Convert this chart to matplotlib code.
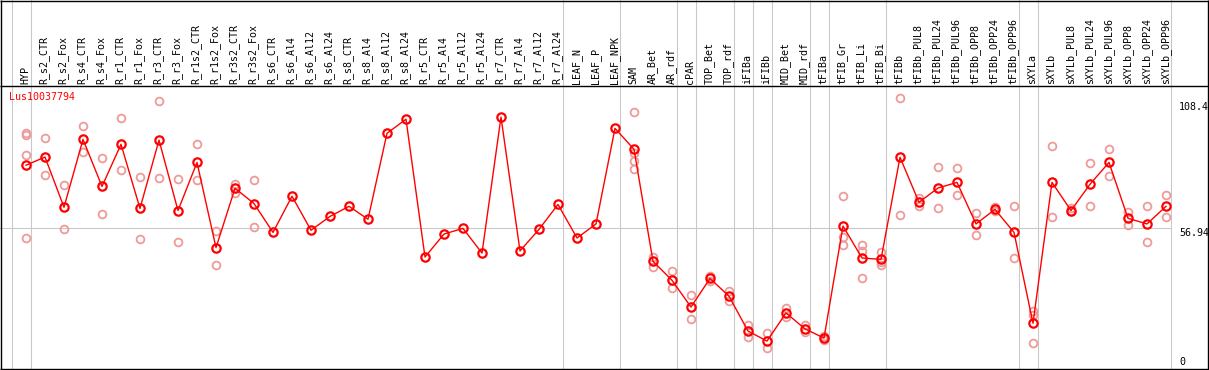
import matplotlib
matplotlib.use('Agg')
import matplotlib.pyplot as plt

gene = "Lus10037794"
categories = ["HYP", "R_s2_CTR", "R_s2_Fox", "R_s4_CTR", "R_s4_Fox", "R_r1_CTR", "R_r1_Fox",
              "R_r3_CTR", "R_r3_Fox", "R_r1s2_CTR", "R_r1s2_Fox", "R_r3s2_CTR", "R_r3s2_Fox",
              "R_s6_CTR", "R_s6_Al4", "R_s6_Al12", "R_s6_Al24", "R_s8_CTR", "R_s8_Al4",
              "R_s8_Al12", "R_s8_Al24", "R_r5_CTR", "R_r5_Al4", "R_r5_Al12", "R_r5_Al24",
              "R_r7_CTR", "R_r7_Al4", "R_r7_Al12", "R_r7_Al24", "LEAF_N", "LEAF_P", "LEAF_NPK",
              "SAM", "AR_Bet", "AR_rdf", "cPAR", "TOP_Bet", "TOP_rdf", "iFIBa", "iFIBb",
              "MID_Bet", "MID_rdf", "tFIBa", "tFIB_Gr", "tFIB_Li", "tFIB_Bi", "tFIBb",
              "tFIBb_PUL8", "tFIBb_PUL24", "tFIBb_PUL96", "tFIBb_OPP8", "tFIBb_OPP24",
              "tFIBb_OPP96", "sXYLa", "sXYLb", "sXYLb_PUL8", "sXYLb_PUL24", "sXYLb_PUL96",
              "sXYLb_OPP8", "sXYLb_OPP24", "sXYLb_OPP96"]

means = [83.8, 87.3, 65.9, 94.8, 74.8, 92.7, 65.4, 94.5, 64.5, 85.0,
         48.7, 74.0, 67.5, 55.2, 70.6, 56.1, 62.0, 66.3, 60.8, 97.4,
         103.4, 44.7, 54.5, 56.9, 46.4, 104.3, 47.3, 56.5, 67.1, 52.8,
         58.8, 99.5, 90.6, 42.9, 34.8, 23.4, 35.6, 28.0, 13.2, 8.9,
         20.9, 14.1, 10.2, 57.9, 44.3, 43.7, 87.2, 68.0, 74.1, 76.5,
         58.8, 65.0, 55.2, 16.5, 76.5, 64.5, 75.7, 85.0, 61.2, 58.8, 66.3]

replicates = [[97.6, 96.8, 88.0, 52.7], [95.3, 79.5], [75.2, 56.5], [100.4, 89.3],
              [86.9, 62.9], [103.8, 81.6], [78.8, 52.2], [111.0, 78.2], [77.8, 51.0],
              [92.7, 77.4], [55.9, 41.2], [75.8, 72.1], [77.4, 57.4],
              [], [], [], [], [], [], [], [], [], [], [], [], [], [], [], [], [], [], [],
              [106.3, 89.0, 85.6, 82.1], [44.7, 40.6], [38.6, 31.4], [28.4, 18.3],
              [36.6, 34.4], [30.4, 26.1], [15.8, 10.6], [12.2, 5.8], [23.0, 19.0],
              [15.8, 12.6], [10.9, 9.4], [70.7, 53.4, 49.7], [49.8, 47.1, 35.6],
              [47.0, 42.7, 41.2], [112.3, 62.6], [69.7, 66.6], [82.9, 65.4], [82.5, 71.0],
              [63.3, 53.9], [66.0, 64.3], [66.3, 44.2], [21.6, 20.2, 7.9], [91.9, 61.6],
              [65.6, 64.2], [84.6, 66.3], [90.7, 79.4], [63.9, 58.3], [66.3, 51.0],
              [71.0, 61.6]]

group_breaks = [-1, 0, 28, 31, 34, 35, 37, 38, 39, 41, 42, 45, 52, 53, 60]
ref_value = 56.94
scale_labels = ["108.4", "56.94", "0"]
scale_values = [108.4, 56.94, 0]

W, H = 1209, 370
X0, DX = 26.0, 19.0      # pixel of first category, spacing
Y0, DY = 362.0, 2.348    # pixel of value 0, pixels per unit

fig = plt.figure(figsize=(W / 100, H / 100), dpi=100)
ax = fig.add_axes([0, 0, 1, 1])
ax.set_xlim(-X0 / DX, (W - X0) / DX)
ax.set_ylim((Y0 - H) / DY, Y0 / DY)
ax.axis('off')


def px_x(p):
    return (p - X0) / DX


def px_y(p):
    return (Y0 - p) / DY


gray = '#C8C8C8'
lw1 = 0.75
mono = 'DejaVu Sans Mono'

# group separators
for b in group_breaks:
    ax.plot([b + 0.25, b + 0.25], [px_y(0), px_y(H)], color=gray, lw=lw1, zorder=1)
# reference line
ax.plot([px_x(0), px_x(1170.5)], [ref_value, ref_value], color=gray, lw=lw1, zorder=1)

# borders
k = dict(color='black', lw=1.0, zorder=5, solid_capstyle='butt')
ax.plot([px_x(0), px_x(W)], [px_y(0.5), px_y(0.5)], **k)
ax.plot([px_x(0), px_x(W)], [px_y(85.5), px_y(85.5)], **k)
ax.plot([px_x(0), px_x(W)], [px_y(368.5), px_y(368.5)], **k)
ax.plot([px_x(1.5), px_x(1.5)], [px_y(0), px_y(H)], **k)
ax.plot([px_x(1207.5), px_x(1207.5)], [px_y(0), px_y(H)], **k)

# replicate points
for i, reps in enumerate(replicates):
    if reps:
        ax.plot([i] * len(reps), reps, 'o', ls='none', mfc='none', mec='#EE9A9A',
                ms=5.6, mew=1.3, zorder=2)

# mean line
ax.plot(range(len(categories)), means, color='red', lw=1.0, marker='o', mfc='none',
        mec='red', ms=6.0, mew=1.6, zorder=3)

# category labels
for i, c in enumerate(categories):
    ax.text(i - 0.04, px_y(83.5), c, rotation=90, ha='center', va='bottom',
            family=mono, fontsize=7.2, color='black')

# gene name
ax.text(px_x(9), px_y(97.5), gene, ha='left', va='center', family=mono,
        fontsize=7.2, color='red')

# scale labels
ax.text(px_x(1179), px_y(107), scale_labels[0], ha='left', va='center', family=mono,
        fontsize=7.2, color='black')
ax.text(px_x(1179), px_y(232.5), scale_labels[1], ha='left', va='center', family=mono,
        fontsize=7.2, color='black')
ax.text(px_x(1179), px_y(362), scale_labels[2], ha='left', va='center', family=mono,
        fontsize=7.2, color='black')

fig.savefig('out.png', dpi=100)
